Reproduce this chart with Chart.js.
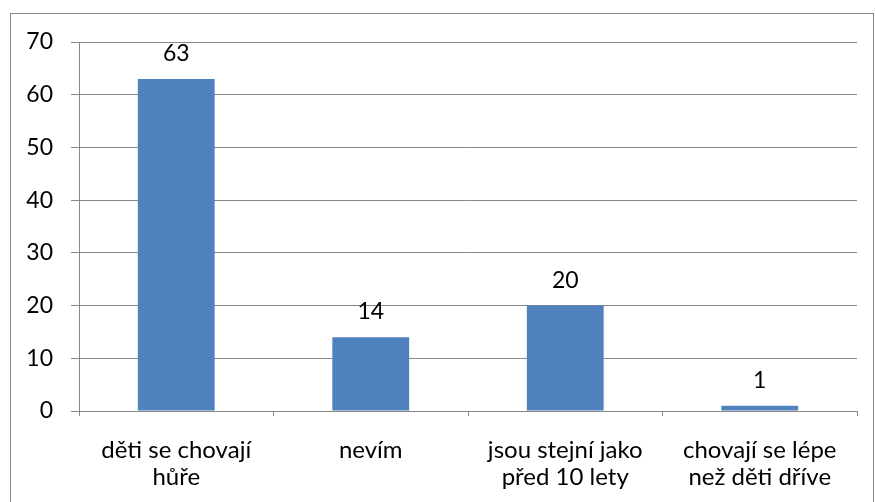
<!DOCTYPE html>
<html>
<head>
<meta charset="utf-8">
<script src="https://cdn.jsdelivr.net/npm/chart.js@4.4.1/dist/chart.umd.min.js"></script>
<style>
  html, body { margin: 0; padding: 0; background: #fff; }
  #wrap { width: 875px; height: 502px; }
</style>
</head>
<body>
<div id="wrap"><canvas id="chart" width="875" height="502"></canvas></div>
<script>
const categories = [
  ['děti se chovají', 'hůře'],
  ['nevím'],
  ['jsou stejní jako', 'před 10 lety'],
  ['chovají se lépe', 'než děti dříve']
];
const counts = [63, 14, 20, 1];
const yTicks = [0, 10, 20, 30, 40, 50, 60, 70];

const FONT = "Lato, 'Open Sans', sans-serif";
const GRID = '#878787';

const frame = {
  id: 'frame',
  beforeDraw(chart) {
    const c = chart.ctx;
    c.save();
    c.fillStyle = '#fff';
    c.fillRect(0, 0, chart.width, chart.height);
    c.strokeStyle = GRID;
    c.lineWidth = 1;
    c.strokeRect(10.5, 13.5, 863, 500);
    c.restore();
  }
};

const valueLabels = {
  id: 'valueLabels',
  afterDatasetsDraw(chart) {
    const c = chart.ctx;
    const meta = chart.getDatasetMeta(0);
    c.save();
    c.fillStyle = '#000';
    c.font = '23px ' + FONT;
    c.textAlign = 'center';
    c.textBaseline = 'alphabetic';
    meta.data.forEach((bar, i) => {
      c.fillText(String(counts[i]), bar.x, bar.y - 18);
    });
    c.restore();
  }
};

new Chart(document.getElementById('chart'), {
  type: 'bar',
  data: {
    labels: categories,
    datasets: [{
      data: counts,
      backgroundColor: '#4F81BD',
      borderWidth: 0,
      categoryPercentage: 1,
      barPercentage: 0.395
    }]
  },
  options: {
    responsive: false,
    animation: false,
    layout: { padding: { left: 0, right: 18, top: 42, bottom: 0 } },
    plugins: {
      legend: { display: false },
      tooltip: { enabled: false }
    },
    scales: {
      x: {
        grid: {
          display: true,
          drawOnChartArea: false,
          drawTicks: true,
          tickLength: 5,
          color: GRID,
          offset: true
        },
        border: { display: true, color: GRID },
        ticks: {
          color: '#000',
          font: { family: FONT, size: 24, lineHeight: 1.15 },
          padding: 20,
          maxRotation: 0,
          autoSkip: false
        },
        afterFit(scale) { scale.height = 91; }
      },
      y: {
        min: 0,
        max: 70,
        afterBuildTicks(scale) { scale.ticks = yTicks.map(v => ({ value: v })); },
        grid: { color: GRID, tickLength: 8 },
        border: { display: true, color: GRID },
        ticks: {
          color: '#000',
          font: { family: FONT, size: 23 },
          padding: 18
        },
        afterFit(scale) { scale.width = 79; }
      }
    }
  },
  plugins: [frame, valueLabels]
});
</script>
</body>
</html>
